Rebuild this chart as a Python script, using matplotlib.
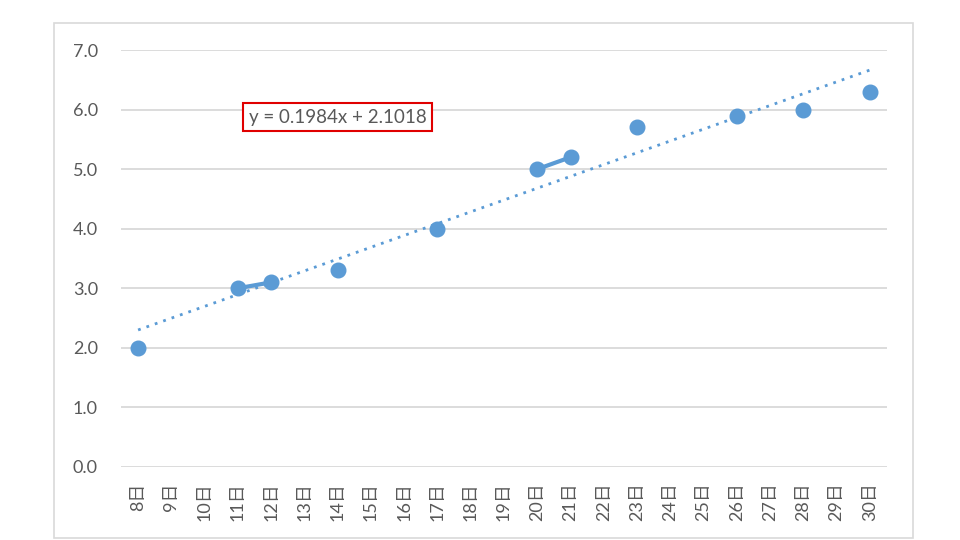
import numpy as np
import matplotlib
matplotlib.use("Agg")
import matplotlib.pyplot as plt
from matplotlib.patches import Rectangle

plt.rcParams['font.family'] = ['Lato', 'Noto Sans CJK JP', 'DejaVu Sans']

# categories (days) and values, None = no data that day
days = [f"{d}日" for d in range(8, 31)]
values = [2.0, None, None, 3.0, 3.1, None, 3.3, None, None, 4.0, None, None,
          5.0, 5.2, None, 5.7, None, None, 5.9, None, 6.0, None, 6.3]

blue = "#5B9BD5"
grey_txt = "#595959"
grid_c = "#D9D9D9"

x = np.arange(1, len(days) + 1)
y = np.array([np.nan if v is None else v for v in values])

fig = plt.figure(figsize=(9.6, 5.4), dpi=100)
fig.patch.set_facecolor("white")
fig.patches.append(Rectangle((0.05625, 0.0037), 0.8948, 0.9537, transform=fig.transFigure,
                             fill=False, edgecolor=grid_c, linewidth=1.2))

ax = fig.add_axes([0.1265, 0.1352, 0.797, 0.7722])

# series: lines only join neighbouring days that both have data
ax.plot(x, y, color=blue, linewidth=3, marker="o", markersize=10.5,
        markeredgecolor=blue, zorder=3)

# linear trendline (Excel style, x = category index)
mask = ~np.isnan(y)
k, b = np.polyfit(x[mask], y[mask], 1)
ax.plot(x, k * x + b, color=blue, linewidth=2, linestyle=(0, (1, 2.2)), zorder=2)

ax.text(7.0, 5.87, f"y = {k:.4f}x + {b:.4f}", fontsize=13.5, color=grey_txt,
        ha="center", va="center",
        bbox=dict(boxstyle="square,pad=0.3", facecolor="white", edgecolor="#E00000", linewidth=1.5))

ax.set_xlim(0.5, len(days) + 0.5)
ax.set_ylim(0, 7)
ax.set_yticks(np.arange(0, 7.5, 1.0))
ax.set_yticklabels([f"{v:.1f}" for v in np.arange(0, 7.5, 1.0)])
ax.set_xticks(x)
ax.set_xticklabels(days, rotation=90)

ax.grid(axis="y", color=grid_c, linewidth=1.3)
ax.set_axisbelow(True)
for s in ax.spines.values():
    s.set_visible(False)
ax.tick_params(axis="y", length=0, pad=17, labelsize=13, labelcolor=grey_txt)
ax.tick_params(axis="x", length=0, pad=11, labelsize=13, labelcolor=grey_txt)

fig.savefig("out.png", dpi=100)
